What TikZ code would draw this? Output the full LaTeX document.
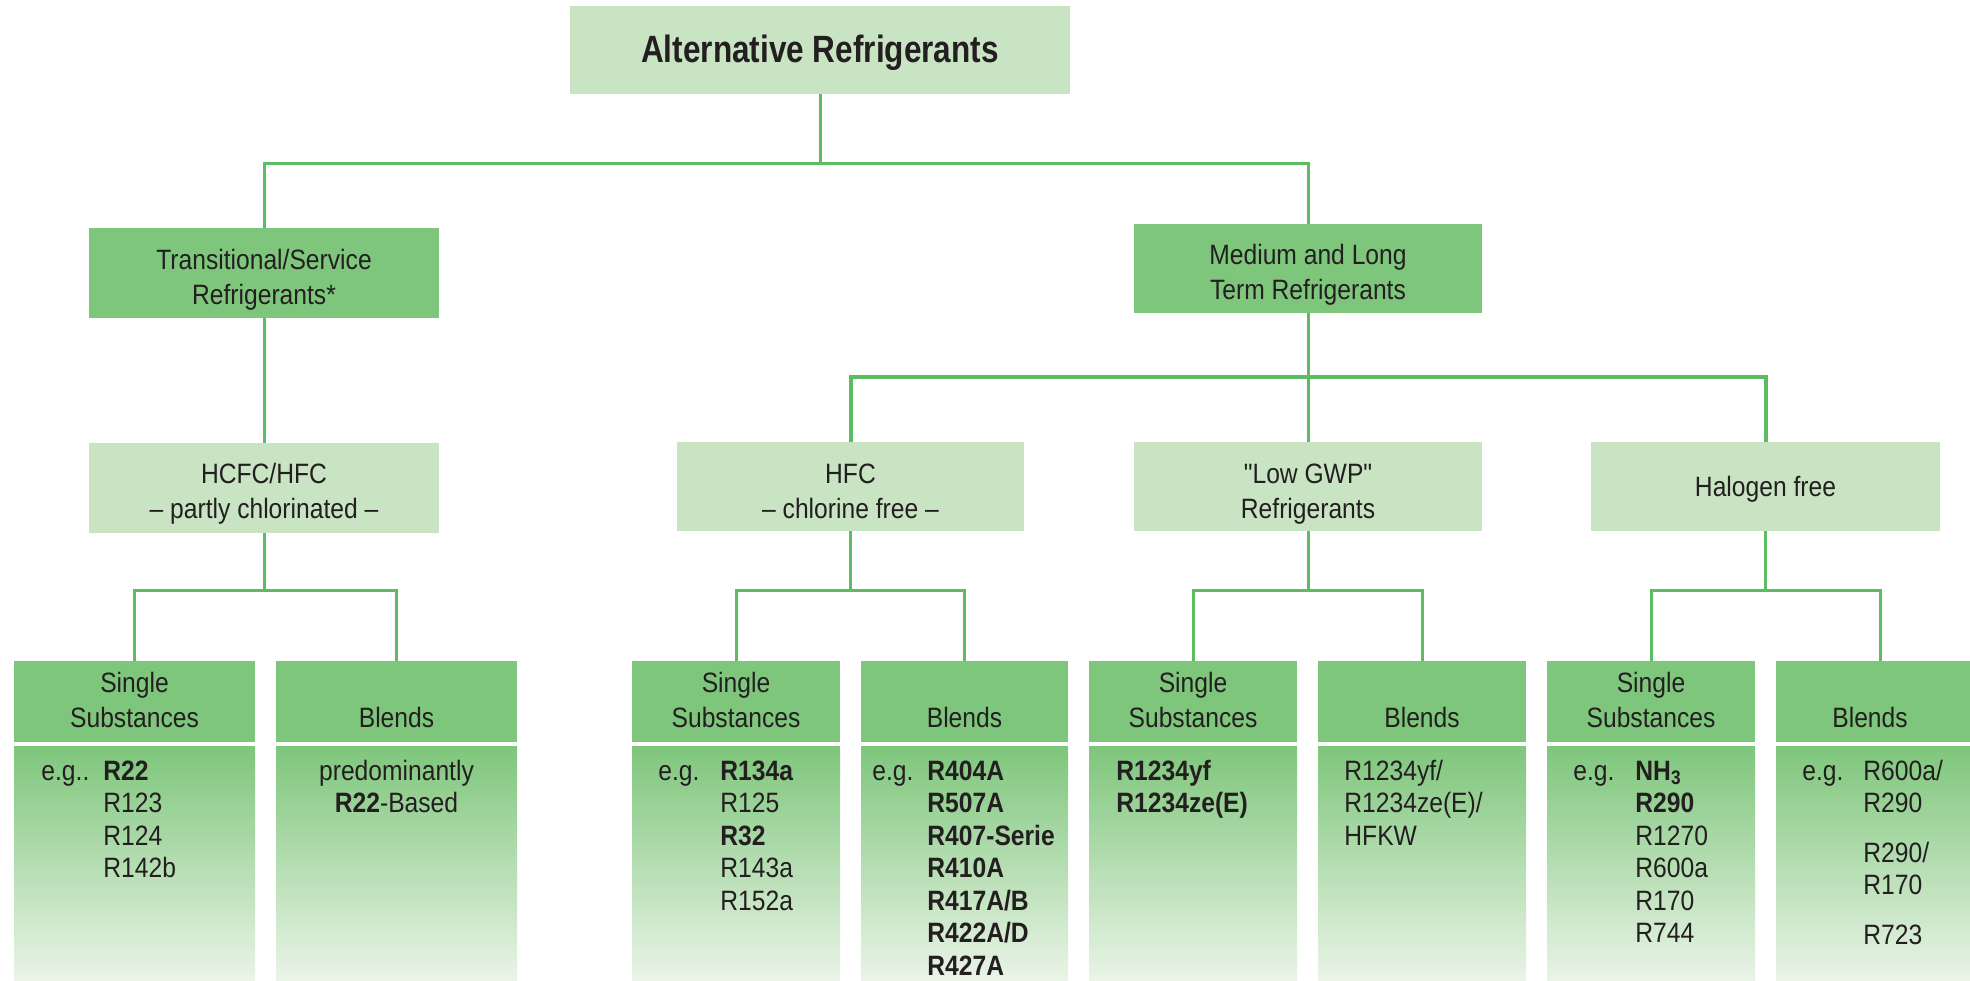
\documentclass[tikz,border=0pt]{standalone}
\usepackage{fontspec}
\setmainfont{Liberation Sans}[FakeStretch=0.88]
\newfontfamily\plainq{Liberation Sans}[FakeStretch=0.88]
\newfontfamily\titlef{Liberation Sans}[FakeStretch=0.83]
\usetikzlibrary{fit}
\definecolor{dk}{RGB}{126,198,123}
\definecolor{lt}{RGB}{201,228,195}
\definecolor{ln}{RGB}{91,189,95}
\definecolor{pale}{RGB}{234,244,231}
\definecolor{txt}{RGB}{35,31,32}
\newcommand\ftx{\fontsize{14}{17.5}\selectfont}
\newcommand\fbd{\fontsize{14}{16.25}\selectfont}
\newcommand\zzB[1]{\begin{tabular}[b]{@{}c@{}}#1\end{tabular}}
\newcommand\zzL[1]{\begin{tabular}[t]{@{}l@{}}#1\end{tabular}}
\newcommand\zzC[1]{\begin{tabular}[t]{@{}c@{}}#1\end{tabular}}
\begin{document}
\begin{tikzpicture}[x=0.5pt,y=-0.5pt,
  box/.style={inner sep=0pt, outer sep=0pt},
  dkbox/.style={box, fill=dk},
  ltbox/.style={box, fill=lt},
  bodybox/.style={box, top color=dk, bottom color=pale},
  conn/.style={draw=ln, line width=1.5pt},
  lbl/.style={inner sep=0pt, text=txt, font=\ftx},
  bdy/.style={inner sep=0pt, text=txt, font=\fbd}]
\useasboundingbox (0,0) rectangle (1970,980);
\clip (0,0) rectangle (1970,980);
% level 0
\node[ltbox, fit={(570,6) (1070,94)}] (top) {};
\node[lbl, font=\titlef\fontsize{19}{22}\selectfont\bfseries, anchor=base] (toptx) at (820,62) {Alternative Refrigerants};
% level 1
\node[dkbox, fit={(89,228) (439,318)}] (trans) {};
\node[lbl, anchor=base] (transtx) at (264,304) {\zzB{Transitional/Service\\Refrigerants*}};
\node[dkbox, fit={(1134,224) (1482,313)}] (med) {};
\node[lbl, anchor=base] (medtx) at (1308,299) {\zzB{Medium and Long\\Term Refrigerants}};
% level 2
\node[ltbox, fit={(89,443) (439,533)}] (hcfc) {};
\node[lbl, anchor=base] (hcfctx) at (264,518) {\zzB{HCFC/HFC\\\textendash{} partly chlorinated \textendash}};
\node[ltbox, fit={(677,442) (1024,531)}] (hfc) {};
\node[lbl, anchor=base] (hfctx) at (850.5,518) {\zzB{HFC\\\textendash{} chlorine free \textendash}};
\node[ltbox, fit={(1134,442) (1482,531)}] (lgwp) {};
\node[lbl, anchor=base] (lgwptx) at (1308,518) {\zzB{{\plainq "Low GWP"}\\Refrigerants}};
\node[ltbox, fit={(1591,442) (1940,531)}] (hal) {};
\node[lbl, anchor=base] (haltx) at (1765.5,496) {Halogen free};
% level 3 headers
\node[dkbox, fit={(14,661) (255,742)}] (s1h) {};
\node[dkbox, fit={(276,661) (517,742)}] (b1h) {};
\node[dkbox, fit={(632,661) (840,742)}] (s2h) {};
\node[dkbox, fit={(861,661) (1068,742)}] (b2h) {};
\node[dkbox, fit={(1089,661) (1297,742)}] (s3h) {};
\node[dkbox, fit={(1318,661) (1526,742)}] (b3h) {};
\node[dkbox, fit={(1547,661) (1755,742)}] (s4h) {};
\node[dkbox, fit={(1776,661) (1984,742)}] (b4h) {};
% level 3 bodies
\node[bodybox, fit={(14,746) (255,980)}] (s1b) {};
\node[bodybox, fit={(276,746) (517,980)}] (b1b) {};
\node[bodybox, fit={(632,746) (840,980)}] (s2b) {};
\node[bodybox, fit={(861,746) (1068,980)}] (b2b) {};
\node[bodybox, fit={(1089,746) (1297,980)}] (s3b) {};
\node[bodybox, fit={(1318,746) (1526,980)}] (b3b) {};
\node[bodybox, fit={(1547,746) (1755,980)}] (s4b) {};
\node[bodybox, fit={(1776,746) (1984,980)}] (b4b) {};
% header texts
\node[lbl, anchor=base] (s1ht) at (134.5,727) {\zzB{Single\\Substances}};
\node[lbl, anchor=base] (b1ht) at (396.5,727) {Blends};
\node[lbl, anchor=base] (s2ht) at (736,727) {\zzB{Single\\Substances}};
\node[lbl, anchor=base] (b2ht) at (964.5,727) {Blends};
\node[lbl, anchor=base] (s3ht) at (1193,727) {\zzB{Single\\Substances}};
\node[lbl, anchor=base] (b3ht) at (1422,727) {Blends};
\node[lbl, anchor=base] (s4ht) at (1651,727) {\zzB{Single\\Substances}};
\node[lbl, anchor=base] (b4ht) at (1870,727) {Blends};
% body texts
\node[bdy, anchor=base west] (s1eg) at (41,780) {e.g..};
\node[bdy, anchor=base west] (s1l) at (103,780) {\zzL{\textbf{R22}\\R123\\R124\\R142b}};
\node[bdy, anchor=base] (b1l) at (396.5,780) {\zzC{predominantly\\\textbf{R22}-Based}};
\node[bdy, anchor=base west] (s2eg) at (658,780) {e.g.};
\node[bdy, anchor=base west] (s2l) at (720,780) {\zzL{\textbf{R134a}\\R125\\\textbf{R32}\\R143a\\R152a}};
\node[bdy, anchor=base west] (b2eg) at (872,780) {e.g.};
\node[bdy, anchor=base west] (b2l) at (927,780) {\zzL{\textbf{R404A}\\\textbf{R507A}\\\textbf{R407-Serie}\\\textbf{R410A}\\\textbf{R417A/B}\\\textbf{R422A/D}\\\textbf{R427A}}};
\node[bdy, anchor=base west] (s3l) at (1116,780) {\zzL{\textbf{R1234yf}\\\textbf{R1234ze(E)}}};
\node[bdy, anchor=base west] (b3l) at (1344,780) {\zzL{R1234yf/\\R1234ze(E)/\\HFKW}};
\node[bdy, anchor=base west] (s4eg) at (1573,780) {e.g.};
\node[bdy, anchor=base west] (s4l) at (1635,780) {\zzL{\textbf{NH\textsubscript{3}}\\\textbf{R290}\\R1270\\R600a\\R170\\R744}};
\node[bdy, anchor=base west] (b4eg) at (1802,780) {e.g.};
\node[bdy, anchor=base west] (b4l) at (1863,780) {\zzL{R600a/\\R290\\[8.5pt]R290/\\R170\\[8.5pt]R723}};
% connectors
\coordinate (bus0) at (0,163);
\coordinate (bus1) at (0,377);
\coordinate (bus2) at (0,590);
\draw[conn] (top.south) -- (top.south |- bus0);
\draw[conn] (trans.north) -- (trans.north |- bus0) -- (med.north |- bus0) -- (med.north);
\draw[conn] (trans.south) -- (hcfc.north);
\draw[conn] (med.south) -- (lgwp.north);
\draw[conn, line width=2pt] (hfc.north) -- (hfc.north |- bus1) -- (hal.north |- bus1) -- (hal.north);
\draw[conn] (hcfc.south) -- (hcfc.south |- bus2);
\draw[conn] (s1h.north) -- (s1h.north |- bus2) -- (b1h.north |- bus2) -- (b1h.north);
\draw[conn] (hfc.south) -- (hfc.south |- bus2);
\draw[conn] (s2h.north) -- (s2h.north |- bus2) -- (b2h.north |- bus2) -- (b2h.north);
\draw[conn] (lgwp.south) -- (lgwp.south |- bus2);
\draw[conn] (s3h.north) -- (s3h.north |- bus2) -- (b3h.north |- bus2) -- (b3h.north);
\draw[conn] (hal.south) -- (hal.south |- bus2);
\draw[conn] (s4h.north) -- (s4h.north |- bus2) -- (b4h.north |- bus2) -- (b4h.north);
\end{tikzpicture}
\end{document}
